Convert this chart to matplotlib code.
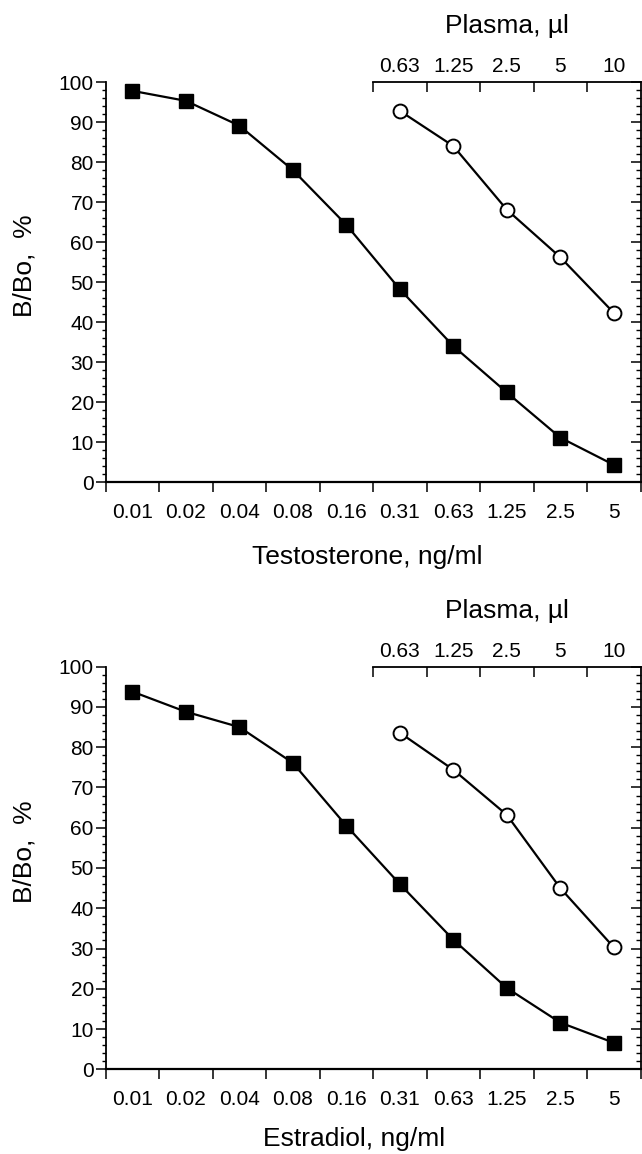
import matplotlib
matplotlib.use("Agg")
import matplotlib.pyplot as plt
from matplotlib.ticker import MultipleLocator

## data
dose_labels = ["0.01", "0.02", "0.04", "0.08", "0.16", "0.31", "0.63", "1.25", "2.5", "5"]
plasma_labels = ["0.63", "1.25", "2.5", "5", "10"]

testosterone_std = [97.8, 95.3, 89.1, 78.0, 64.3, 48.2, 34.0, 22.4, 11.1, 4.3]
testosterone_plasma = [92.8, 84.0, 68.1, 56.2, 42.3]

estradiol_std = [93.8, 88.8, 85.0, 76.1, 60.5, 46.0, 32.2, 20.2, 11.6, 6.6]
estradiol_plasma = [83.6, 74.4, 63.2, 45.0, 30.3]

plt.rcParams['font.family'] = ['Liberation Sans', 'DejaVu Sans']


def panel(ax, std, plasma, xlabel, xlabel_x, xlabel_off):
    n = len(dose_labels)
    xs = [i + 0.5 for i in range(n)]
    first = n - len(plasma)
    xp = [first + i + 0.5 for i in range(len(plasma))]

    ax.plot(xs, std, color='black', lw=1.6, marker='s', ms=10,
            mfc='black', mec='black', zorder=3, clip_on=False)
    ax.plot(xp, plasma, color='black', lw=1.6, marker='o', ms=10,
            mfc='white', mec='black', mew=1.4, zorder=3, clip_on=False)

    ax.set_xlim(0, n)
    ax.set_ylim(0, 100)

    # bottom axis: ticks on boundaries, labels in between
    ax.set_xticks(range(n + 1))
    ax.set_xticklabels([])
    ax.set_xticks(xs, minor=True)
    ax.set_xticklabels(dose_labels, minor=True)
    ax.tick_params(axis='x', which='major', direction='out', length=7, width=1.1)
    ax.tick_params(axis='x', which='minor', length=0, pad=15, labelsize=15)

    ax.yaxis.set_major_locator(MultipleLocator(10))
    ax.yaxis.set_minor_locator(MultipleLocator(2))
    ax.tick_params(axis='y', which='major', direction='out', length=7, width=1.1,
                   pad=1.5, labelsize=15)
    ax.tick_params(axis='y', which='minor', direction='out', length=3, width=1.0)

    ax.spines['top'].set_visible(False)
    ax.spines['right'].set_visible(False)
    ax.spines['left'].set_linewidth(1.3)
    ax.spines['bottom'].set_linewidth(1.6)

    # right axis, ticks pointing in
    right = ax.secondary_yaxis('right')
    right.yaxis.set_major_locator(MultipleLocator(10))
    right.yaxis.set_minor_locator(MultipleLocator(2))
    right.tick_params(which='major', direction='in', length=7, width=1.1, labelright=False)
    right.tick_params(which='minor', direction='in', length=3.5, width=1.0)
    right.spines['right'].set_linewidth(1.3)

    # top axis for plasma volume, only over the plasma range
    top = ax.secondary_xaxis('top')
    top.spines['top'].set_bounds(first, n)
    top.spines['top'].set_linewidth(1.3)
    top.set_xticks(range(first, n))
    top.set_xticklabels([])
    top.set_xticks(xp, minor=True)
    top.set_xticklabels(plasma_labels, minor=True)
    top.tick_params(which='major', direction='in', length=7, width=1.1)
    top.tick_params(which='minor', length=0, pad=4, labelsize=15)

    ax.annotate("Plasma, µl", xy=(first + len(plasma) / 2, 1),
                xycoords=('data', 'axes fraction'), xytext=(0, 35),
                textcoords='offset points', ha='center', va='baseline', fontsize=19)
    ax.annotate(xlabel, xy=(xlabel_x, 0), xycoords=('data', 'axes fraction'),
                xytext=(0, xlabel_off), textcoords='offset points', ha='center',
                va='baseline', fontsize=19)

    ax.set_ylabel("B/Bo,  %", fontsize=19)
    ax.yaxis.set_label_coords(-0.13, 0.54)


def main():
    fig = plt.figure(figsize=(6.42, 11.54), dpi=100)
    ax1 = fig.add_axes([0.1645, 0.5823, 0.8332, 0.3466])
    ax2 = fig.add_axes([0.1645, 0.0734, 0.8332, 0.3489])

    panel(ax1, testosterone_std, testosterone_plasma, "Testosterone, ng/ml", 4.9, -59)
    panel(ax2, estradiol_std, estradiol_plasma, "Estradiol, ng/ml", 4.65, -55)

    fig.savefig("out.png", dpi=100)


if __name__ == '__main__':
    main()
